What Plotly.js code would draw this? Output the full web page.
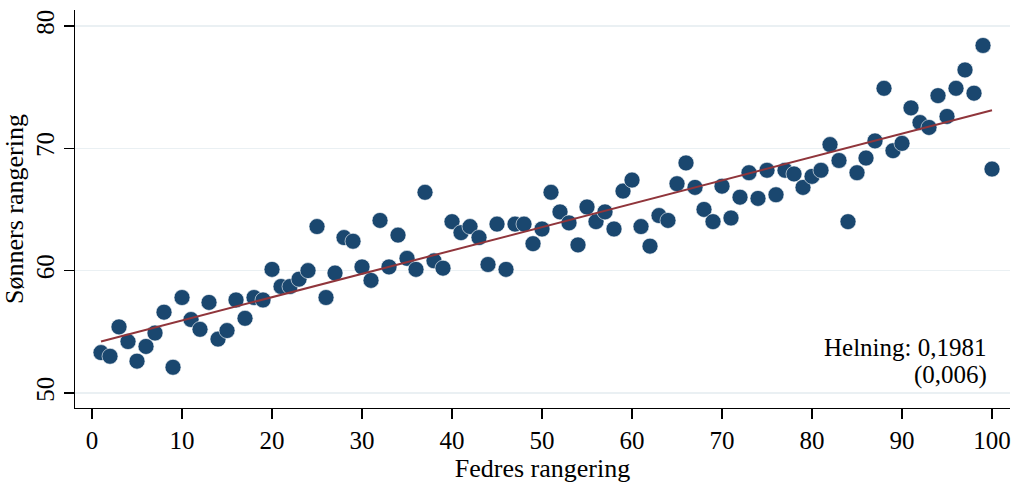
<!DOCTYPE html>
<html>
<head>
<meta charset="utf-8">
<script src="https://cdn.plot.ly/plotly-3.0.1.min.js"></script>
<style>html,body{margin:0;padding:0;background:#fff;}#chart{width:1015px;height:484px;}</style>
</head>
<body>
<div id="chart"></div>
<script>
const fatherRank = [];
for (let i = 1; i <= 100; i++) fatherRank.push(i);

const sonRank = [
  53.3, 53.0, 55.4, 54.2, 52.6, 53.8, 54.9, 56.6, 52.1, 57.8,
  56.0, 55.2, 57.4, 54.4, 55.1, 57.6, 56.1, 57.8, 57.6, 60.1,
  58.7, 58.7, 59.3, 60.0, 63.6, 57.8, 59.8, 62.7, 62.4, 60.3,
  59.2, 64.1, 60.3, 62.9, 61.0, 60.1, 66.4, 60.8, 60.2, 64.0,
  63.1, 63.6, 62.7, 60.5, 63.8, 60.1, 63.8, 63.8, 62.2, 63.4,
  66.4, 64.8, 63.9, 62.1, 65.2, 64.0, 64.8, 63.4, 66.5, 67.4,
  63.6, 62.0, 64.5, 64.1, 67.1, 68.8, 66.8, 65.0, 64.0, 66.9,
  64.3, 66.0, 68.0, 65.9, 68.2, 66.2, 68.2, 67.9, 66.8, 67.7,
  68.2, 70.3, 69.0, 64.0, 68.0, 69.2, 70.6, 74.9, 69.8, 70.4,
  73.3, 72.1, 71.7, 74.3, 72.6, 74.9, 76.4, 74.5, 78.4, 68.3
];

const fitX = [1, 100];
const fitY = [54.2, 73.1];

const xTicks = [0, 10, 20, 30, 40, 50, 60, 70, 80, 90, 100];
const yTicks = [50, 60, 70, 80];

const slopeText = 'Helning: 0,1981';
const seText = '(0,006)';

const font = {family: '"Liberation Serif", "Times New Roman", serif', color: '#000', size: 25};

const traces = [
  {
    x: fatherRank, y: sonRank, type: 'scatter', mode: 'markers',
    marker: {color: '#1a476f', size: 16, line: {color: '#ffffff', width: 0.6}},
    hoverinfo: 'x+y', showlegend: false
  },
  {
    x: fitX, y: fitY, type: 'scatter', mode: 'lines',
    line: {color: '#90353b', width: 2},
    showlegend: false
  }
];

const layout = {
  width: 1015, height: 484,
  margin: {l: 75, r: 5, t: 10, b: 76},
  paper_bgcolor: '#fff', plot_bgcolor: '#fff',
  font: font,
  showlegend: false,
  xaxis: {
    range: [-1.89, 102.0],
    tickvals: xTicks, ticktext: xTicks.map(String),
    showgrid: false, zeroline: false,
    showline: true, linecolor: '#000', linewidth: 1.3,
    ticks: 'outside', ticklen: 10, tickwidth: 1.3, tickcolor: '#000',
    tickfont: {size: 25},
    title: {text: 'Fedres rangering', font: {size: 26}, standoff: 0}
  },
  yaxis: {
    range: [48.77, 81.3],
    tickvals: yTicks, ticktext: yTicks.map(String),
    tickangle: -90,
    showgrid: true, gridcolor: '#eaf0f3', gridwidth: 1.5,
    zeroline: false,
    showline: true, linecolor: '#000', linewidth: 1.3,
    ticks: 'outside', ticklen: 10, tickwidth: 1.3, tickcolor: '#000',
    tickfont: {size: 25},
    title: {text: 'Sønners rangering', font: {size: 26}, standoff: 0}
  },
  annotations: [
    {xref: 'paper', yref: 'y', x: 0.978, y: 53.7, xanchor: 'right', yanchor: 'middle',
     text: slopeText, showarrow: false, font: {size: 25}},
    {xref: 'paper', yref: 'y', x: 0.978, y: 51.5, xanchor: 'right', yanchor: 'middle',
     text: seText, showarrow: false, font: {size: 25}}
  ]
};

Plotly.newPlot('chart', traces, layout, {displayModeBar: false, staticPlot: true});
</script>
</body>
</html>
